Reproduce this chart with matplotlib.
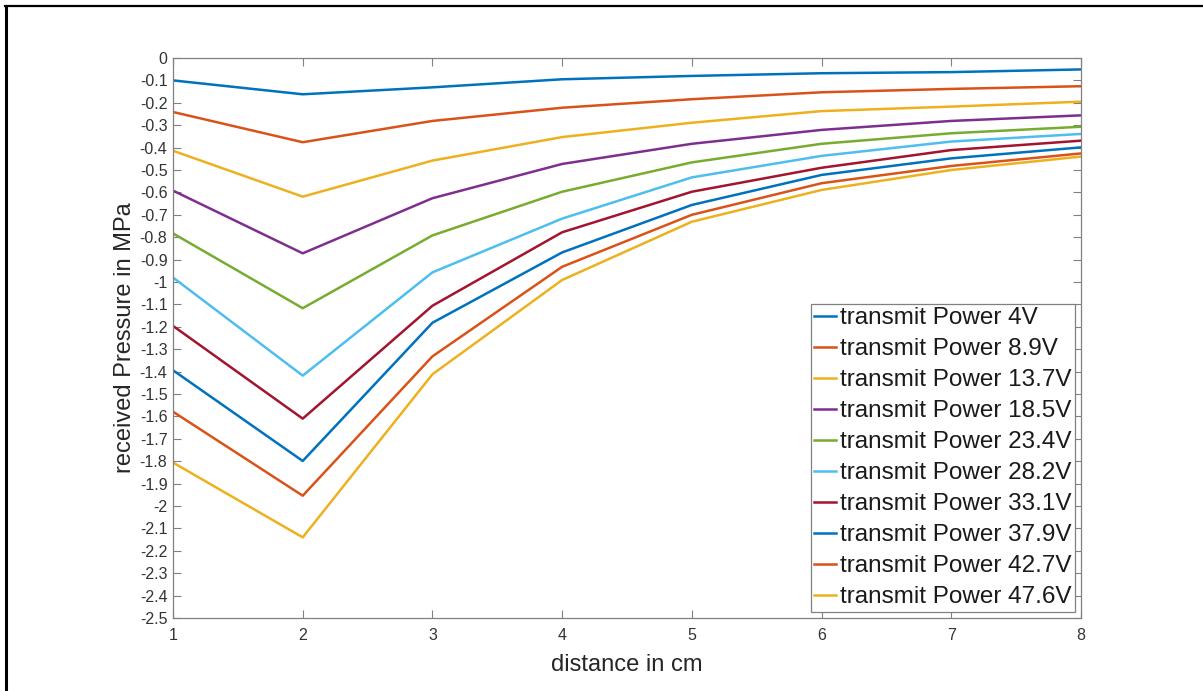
import matplotlib.pyplot as plt
from matplotlib.lines import Line2D
from matplotlib.ticker import FixedLocator, FuncFormatter
import numpy as np

plt.rcParams['font.family'] = ['Liberation Sans', 'DejaVu Sans']

distance = [1, 2, 3, 4, 5, 6, 7, 8]  # cm

labels = ['transmit Power 4V', 'transmit Power 8.9V', 'transmit Power 13.7V',
          'transmit Power 18.5V', 'transmit Power 23.4V', 'transmit Power 28.2V',
          'transmit Power 33.1V', 'transmit Power 37.9V', 'transmit Power 42.7V',
          'transmit Power 47.6V']

# received pressure (MPa) per transmit voltage
p_4v = [-0.10, -0.162, -0.131, -0.095, -0.080, -0.068, -0.063, -0.051]
p_8v9 = [-0.241, -0.376, -0.281, -0.222, -0.184, -0.153, -0.138, -0.126]
p_13v7 = [-0.414, -0.619, -0.458, -0.353, -0.289, -0.237, -0.217, -0.195]
p_18v5 = [-0.592, -0.872, -0.626, -0.473, -0.383, -0.321, -0.281, -0.256]
p_23v4 = [-0.783, -1.117, -0.792, -0.597, -0.466, -0.383, -0.336, -0.307]
p_28v2 = [-0.980, -1.418, -0.957, -0.717, -0.533, -0.437, -0.373, -0.339]
p_33v1 = [-1.196, -1.610, -1.106, -0.778, -0.597, -0.490, -0.411, -0.369]
p_37v9 = [-1.394, -1.799, -1.182, -0.868, -0.656, -0.522, -0.448, -0.399]
p_42v7 = [-1.579, -1.954, -1.332, -0.932, -0.700, -0.559, -0.482, -0.426]
p_47v6 = [-1.806, -2.140, -1.412, -0.991, -0.731, -0.589, -0.500, -0.440]

series = [p_4v, p_8v9, p_13v7, p_18v5, p_23v4, p_28v2, p_33v1, p_37v9, p_42v7, p_47v6]

# matlab default line colours
colors = [(0, 0.447, 0.741), (0.85, 0.325, 0.098), (0.929, 0.694, 0.125),
          (0.494, 0.184, 0.556), (0.466, 0.674, 0.188), (0.301, 0.745, 0.933),
          (0.635, 0.078, 0.184)]

W, H = 1203, 691
fig = plt.figure(figsize=(W / 100, H / 100), dpi=100)
ax = fig.add_axes([173 / W, 1 - 618 / H, (1081 - 173) / W, (618 - 58) / H])

for i, (vals, lab) in enumerate(zip(series, labels)):
    ax.plot(distance, vals, color=colors[i % len(colors)], lw=1.8, label=lab)

ax.set_xlim(1, 8)
ax.set_ylim(-2.5, 0)
ax.xaxis.set_major_locator(FixedLocator(distance))
yt = np.round(np.arange(-2.5, 0.001, 0.1), 1)
ax.yaxis.set_major_locator(FixedLocator(yt))
ax.yaxis.set_major_formatter(FuncFormatter(lambda v, p: f'{round(v, 1):g}' if abs(v) > 1e-9 else '0'))

gray = '#808080'
for s in ax.spines.values():
    s.set_color(gray)
    s.set_linewidth(0.9)
ax.tick_params(direction='in', length=6, width=0.8, color=gray, labelcolor='#333333',
               labelsize=11.5, top=True, right=True)
ax.tick_params(axis='x', pad=7)
ax.tick_params(axis='y', pad=4)

ax.set_xlabel('distance in cm', fontsize=17, color='#262626', labelpad=8)
ax.set_ylabel('received Pressure in MPa', fontsize=17, color='#262626', labelpad=3)

leg = ax.legend(loc='lower right', bbox_to_anchor=(1075 / W, 1 - 612 / H),
                bbox_transform=fig.transFigure, fontsize=17.5, frameon=True,
                fancybox=False, framealpha=1, edgecolor=gray, borderaxespad=0,
                borderpad=0.15, handlelength=0.9, handletextpad=0.15,
                labelspacing=0.37)
leg.get_frame().set_linewidth(0.9)
for t in leg.get_texts():
    t.set_color('#1a1a1a')

# frame lines around the picture
fig.add_artist(Line2D([5 / W, 1], [1 - 6 / H, 1 - 6 / H], transform=fig.transFigure,
                      color='black', lw=1.6))
fig.add_artist(Line2D([6 / W, 6 / W], [0, 1 - 6 / H], transform=fig.transFigure,
                      color='black', lw=2.2))

fig.savefig('out.png', dpi=100)
